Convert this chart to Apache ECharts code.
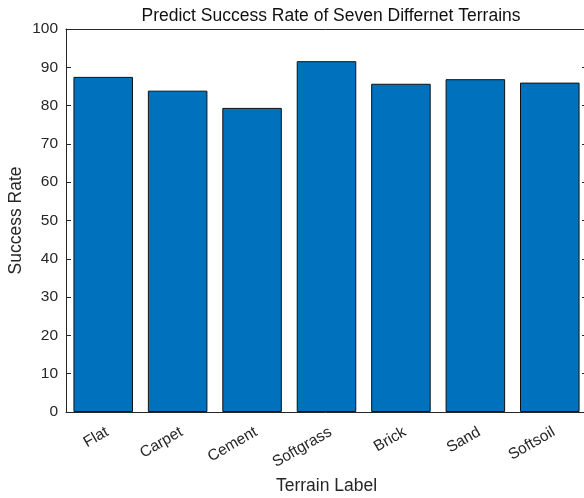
<!DOCTYPE html>
<html>
<head>
<meta charset="utf-8">
<script src="https://cdn.jsdelivr.net/npm/echarts@6/dist/echarts.min.js"></script>
<style>html,body{margin:0;padding:0;background:#fff}#c{width:584px;height:498px}</style>
</head>
<body>
<div id="c"></div>
<script>
var categories = ['Flat', 'Carpet', 'Cement', 'Softgrass', 'Brick', 'Sand', 'Softsoil'];
var successRate = [87.5, 83.9, 79.4, 91.6, 85.7, 86.9, 86.0];
var yTicks = [0, 10, 20, 30, 40, 50, 60, 70, 80, 90, 100];

var FONT = '"Liberation Sans", Arial, Helvetica, sans-serif';
var AX = '#262626';
var chart = echarts.init(document.getElementById('c'));
chart.setOption({
  animation: false,
  title: {
    text: 'Predict Success Rate of Seven Differnet Terrains',
    left: 326, top: 2, textAlign: 'center',
    textStyle: {fontFamily: FONT, fontSize: 17.5, fontWeight: 'normal', color: '#111'}
  },
  grid: {left: 66, right: -3, top: 29, bottom: 86, containLabel: false, outerBoundsMode: 'none'},
  xAxis: [{
    type: 'category', data: categories, position: 'bottom',
    name: 'Terrain Label', nameLocation: 'middle', nameGap: 63,
    nameTextStyle: {fontFamily: FONT, fontSize: 17.5, color: AX},
    axisLine: {onZero: false, lineStyle: {color: AX, width: 1}},
    axisTick: {inside: true, length: 5, alignWithLabel: true, lineStyle: {color: AX}},
    axisLabel: {rotate: 30, fontFamily: FONT, fontSize: 15.5, color: AX, margin: 12,
      verticalAlign: 'top', interval: 0}
  }, {
    type: 'category', data: categories, position: 'top',
    axisLine: {onZero: false, lineStyle: {color: AX, width: 1}},
    axisTick: {inside: true, length: 5, alignWithLabel: true, lineStyle: {color: AX}},
    axisLabel: {show: false}
  }],
  yAxis: [{
    type: 'value', min: 0, max: 100, interval: 10, position: 'left',
    name: 'Success Rate', nameLocation: 'middle', nameGap: 41, nameRotate: 90,
    nameMoveOverlap: false,
    nameTextStyle: {fontFamily: FONT, fontSize: 17.5, color: AX},
    axisLine: {show: true, onZero: false, lineStyle: {color: AX, width: 1}},
    axisTick: {show: true, inside: true, length: 5, lineStyle: {color: AX}},
    axisLabel: {fontFamily: FONT, fontSize: 15.5, color: AX, margin: 8,
      formatter: function (v) { return yTicks.indexOf(v) >= 0 ? String(v) : ''; }},
    splitLine: {show: false}
  }, {
    type: 'value', min: 0, max: 100, interval: 10, position: 'right',
    axisLine: {show: false, onZero: false, lineStyle: {color: AX, width: 1}},
    axisTick: {show: true, inside: true, length: 5, lineStyle: {color: AX}},
    axisLabel: {show: false}, splitLine: {show: false}
  }],
  series: [{
    type: 'bar', data: successRate, xAxisIndex: 0, yAxisIndex: 0,
    barCategoryGap: '20%',
    itemStyle: {color: '#0072BD', borderColor: '#111', borderWidth: 1}
  }]
});
</script>
</body>
</html>
